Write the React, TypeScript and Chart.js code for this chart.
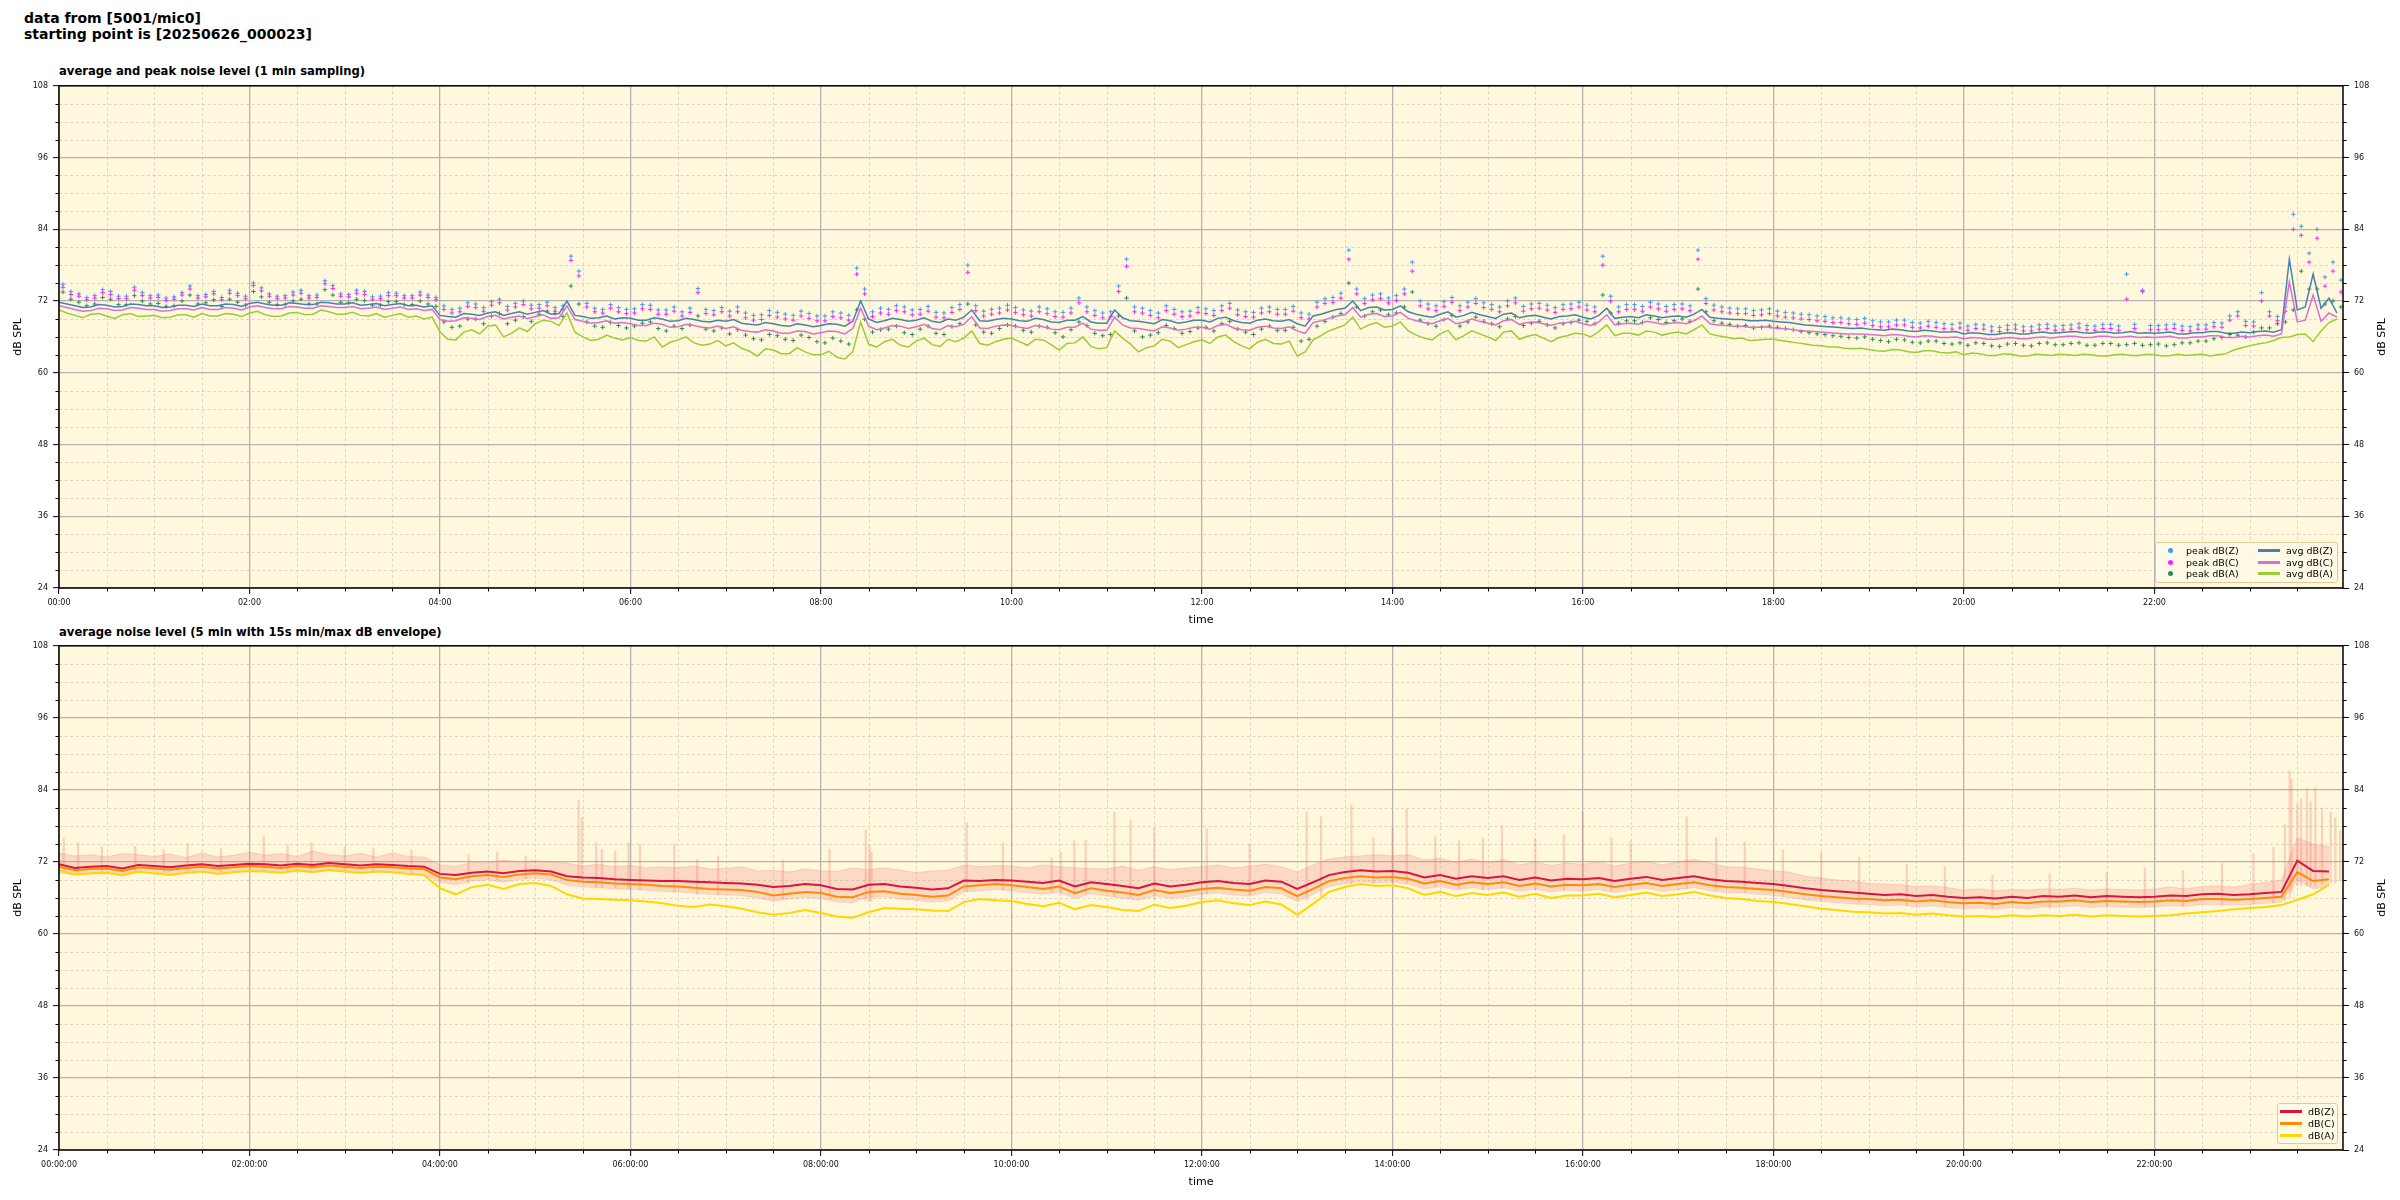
import React, { useEffect, useRef } from "react";
import { Chart, registerables } from "chart.js";

Chart.register(...registerables);

// ------------------------------------------------------------------
// DATA
// top panel: averages every 5 min (00:00..23:55), peaks every 5 min (+2.5 min)
// bottom panel: 5-min averages read every 10 min, envelope band + spikes
// ------------------------------------------------------------------
const AVG_STEP_MIN = 5;
const PEAK_STEP_MIN = 5;
const PEAK_OFFSET_MIN = 2.5;
const DB_STEP_MIN = 10;

const AVG_Z = [
  71.8, 71.5, 71.2, 70.9, 71.0, 71.4, 71.3, 71.0, 71.1, 71.5, 71.4, 71.2,
  71.2, 70.9, 71.0, 71.3, 71.3, 71.1, 71.5, 71.2, 71.2, 71.5, 71.4, 71.1,
  71.6, 71.8, 71.5, 71.3, 71.3, 71.7, 71.6, 71.4, 71.4, 71.8, 71.7, 71.5,
  71.5, 71.7, 71.3, 71.4, 71.6, 71.2, 71.4, 71.6, 71.2, 71.3, 71.0, 71.2,
  69.6, 69.4, 69.3, 69.9, 69.8, 69.6, 70.0, 70.2, 69.6, 69.9, 70.2, 69.8,
  70.1, 70.4, 69.8, 69.9, 72.0, 69.6, 69.4, 69.1, 69.2, 69.5, 69.0, 69.2,
  69.1, 68.8, 68.8, 69.2, 69.0, 68.6, 68.7, 69.1, 68.9, 68.6, 68.5, 68.8,
  68.6, 68.9, 68.3, 68.1, 68.0, 68.4, 68.2, 67.9, 67.8, 68.2, 68.0, 67.7,
  67.9, 68.2, 68.1, 67.8, 68.6, 72.0, 69.0, 68.4, 68.7, 69.1, 68.9, 68.6,
  68.8, 69.2, 68.6, 68.4, 69.0, 68.8, 69.3, 70.5, 68.7, 68.6, 68.9, 69.1,
  69.0, 68.7, 68.6, 69.1, 68.9, 68.5, 68.4, 68.8, 68.8, 69.4, 68.5, 68.3,
  68.3, 70.5, 69.2, 68.7, 68.6, 68.4, 68.2, 68.9, 68.7, 68.3, 68.5, 68.8,
  68.8, 68.5, 69.1, 69.3, 68.7, 68.4, 68.3, 68.8, 69.0, 68.7, 68.6, 68.9,
  68.2, 67.8, 69.5, 69.8, 70.2, 70.6, 70.8, 72.0, 70.4, 70.9, 71.0, 70.5,
  70.6, 71.2, 70.2, 69.8, 69.5, 69.3, 69.8, 70.2, 69.3, 69.6, 70.1, 69.7,
  69.4, 69.1, 69.8, 70.0, 69.2, 69.5, 69.6, 69.3, 69.0, 69.4, 69.5, 69.7,
  69.3, 69.0, 69.6, 70.8, 69.1, 69.3, 69.4, 69.2, 69.7, 69.5, 69.2, 69.4,
  69.5, 69.3, 69.8, 70.6, 69.3, 69.1, 69.0, 68.9, 68.9, 68.7, 68.7, 68.8,
  68.6, 68.5, 68.4, 68.2, 68.0, 67.9, 67.8, 67.7, 67.6, 67.5, 67.4, 67.5,
  67.3, 67.2, 67.1, 67.3, 67.2, 67.0, 66.9, 67.1, 67.0, 66.8, 66.8, 66.9,
  66.5, 66.7, 66.6, 66.4, 66.4, 66.6, 66.7, 66.5, 66.5, 66.7, 66.8, 66.6,
  66.7, 66.8, 66.9, 66.7, 66.6, 66.8, 66.8, 66.6, 66.7, 66.9, 66.6, 66.7,
  66.6, 66.7, 66.8, 66.5, 66.5, 66.7, 66.7, 66.9, 66.9, 66.6, 66.6, 66.8,
  66.7, 66.9, 67.0, 66.8, 67.2, 79.0, 70.5, 71.0, 76.5, 70.8, 72.5, 70.0,
];

const AVG_C = [
  71.2, 70.9, 70.6, 70.3, 70.4, 70.8, 70.7, 70.4, 70.5, 70.9, 70.8, 70.6,
  70.6, 70.3, 70.4, 70.7, 70.7, 70.5, 70.9, 70.6, 70.6, 70.9, 70.8, 70.5,
  71.0, 71.2, 70.9, 70.7, 70.7, 71.1, 71.0, 70.8, 70.8, 71.2, 71.1, 70.9,
  70.9, 71.1, 70.7, 70.8, 71.0, 70.6, 70.8, 71.0, 70.6, 70.7, 70.4, 70.6,
  68.9, 68.6, 68.7, 69.2, 69.1, 68.9, 69.4, 69.6, 69.0, 69.3, 69.5, 69.1,
  69.4, 69.7, 69.1, 69.2, 71.2, 68.9, 68.6, 68.3, 68.4, 68.7, 68.3, 68.4,
  68.2, 67.9, 67.9, 68.3, 68.1, 67.6, 67.7, 68.1, 67.9, 67.6, 67.5, 67.8,
  67.4, 67.7, 67.1, 66.9, 66.8, 67.2, 67.0, 66.6, 66.6, 67.0, 66.9, 66.5,
  66.7, 67.0, 66.9, 66.5, 67.4, 70.8, 67.8, 67.2, 67.5, 67.9, 67.8, 67.4,
  67.7, 68.1, 67.4, 67.2, 67.9, 67.7, 68.1, 69.4, 67.5, 67.4, 67.8, 68.0,
  67.9, 67.6, 67.4, 67.9, 67.7, 67.3, 67.2, 67.6, 67.6, 68.3, 67.3, 67.1,
  67.1, 69.3, 68.0, 67.5, 67.4, 67.2, 67.0, 67.7, 67.5, 67.1, 67.3, 67.6,
  67.6, 67.3, 67.9, 68.1, 67.5, 67.2, 67.1, 67.6, 67.8, 67.5, 67.4, 67.7,
  67.0, 66.6, 68.4, 68.7, 69.1, 69.5, 69.7, 70.9, 69.3, 69.8, 69.9, 69.4,
  69.5, 70.1, 69.1, 68.7, 68.4, 68.2, 68.7, 69.1, 68.2, 68.5, 69.0, 68.6,
  68.3, 68.0, 68.7, 68.9, 68.1, 68.4, 68.5, 68.2, 67.9, 68.3, 68.4, 68.6,
  68.2, 67.9, 68.5, 69.7, 68.0, 68.2, 68.3, 68.1, 68.6, 68.4, 68.1, 68.3,
  68.4, 68.2, 68.7, 69.5, 68.2, 68.0, 67.9, 67.8, 67.8, 67.6, 67.6, 67.7,
  67.5, 67.4, 67.3, 67.1, 67.0, 66.9, 66.8, 66.7, 66.6, 66.5, 66.5, 66.5,
  66.4, 66.3, 66.2, 66.4, 66.3, 66.1, 66.0, 66.2, 66.1, 65.9, 65.9, 66.0,
  65.7, 65.9, 65.8, 65.6, 65.6, 65.8, 65.9, 65.7, 65.7, 65.9, 66.0, 65.8,
  66.0, 66.1, 66.1, 65.9, 65.9, 66.1, 66.1, 65.9, 66.0, 66.1, 65.9, 66.0,
  65.9, 66.0, 66.1, 65.8, 65.8, 66.0, 66.0, 66.2, 66.2, 65.9, 65.9, 66.1,
  66.0, 66.2, 66.3, 66.1, 66.5, 75.2, 68.5, 68.8, 73.0, 68.6, 70.0, 69.3,
];

const AVG_A = [
  70.5, 70.0, 69.6, 69.2, 69.8, 69.9, 69.5, 69.1, 69.7, 69.9, 69.4, 69.5,
  69.6, 69.2, 69.3, 69.7, 69.7, 69.3, 69.9, 69.5, 69.5, 69.9, 69.8, 69.4,
  70.0, 70.3, 69.7, 69.4, 69.5, 70.0, 70.1, 69.7, 69.8, 70.5, 70.2, 69.8,
  69.8, 70.1, 69.6, 69.5, 69.9, 69.3, 69.6, 69.9, 69.3, 69.5, 69.0, 69.3,
  66.8, 65.6, 65.5, 66.8, 67.2, 66.5, 67.8, 68.0, 66.0, 66.6, 67.5, 66.9,
  68.2, 68.8, 68.6, 67.9, 70.0, 66.8, 66.0, 65.4, 65.6, 66.3, 65.8, 65.5,
  65.9, 65.4, 65.3, 66.0, 64.3, 65.1, 65.5, 66.0, 65.0, 64.6, 64.8, 65.4,
  64.5, 65.0, 64.1, 63.6, 62.8, 64.0, 63.8, 63.2, 63.2, 64.2, 63.5, 63.0,
  63.0, 63.6, 62.6, 62.3, 63.5, 68.5, 64.8, 64.3, 65.2, 65.6, 64.6, 64.3,
  65.3, 65.8, 64.7, 64.4, 65.6, 65.2, 65.8, 67.0, 64.9, 64.6, 65.2, 65.6,
  65.8, 65.2, 64.6, 65.6, 65.5, 64.7, 63.8, 64.9, 65.0, 66.0, 64.4, 64.0,
  64.2, 67.0, 65.8, 64.8, 63.5, 64.2, 64.5, 65.6, 65.3, 64.2, 64.7, 65.2,
  65.5, 64.9, 66.0, 66.3, 65.2, 64.5, 64.0, 65.1, 65.6, 64.9, 64.8, 65.3,
  62.8, 63.5, 65.5, 66.2, 67.0, 67.5, 68.0, 69.3, 67.3, 68.0, 68.4, 67.6,
  67.8, 68.5, 67.0, 66.3, 65.8, 65.5, 66.5, 67.1, 65.5, 66.2, 67.0, 66.5,
  66.0, 65.4, 66.8, 67.0, 65.6, 66.1, 66.4, 65.8, 65.2, 65.9, 66.2, 66.6,
  66.5, 66.0, 66.9, 68.0, 66.2, 66.6, 66.6, 66.3, 67.0, 66.8, 66.3, 66.6,
  66.8, 66.5, 67.2, 68.0, 66.5, 66.2, 66.0, 65.7, 65.8, 65.4, 65.5, 65.6,
  65.6, 65.4, 65.2, 65.0, 64.8, 64.6, 64.5, 64.3, 64.3, 64.1, 64.0, 64.1,
  63.9, 63.7, 63.6, 63.9, 63.8, 63.5, 63.4, 63.7, 63.7, 63.4, 63.3, 63.5,
  63.0, 63.3, 63.2, 62.9, 62.9, 63.2, 63.1, 62.8, 62.8, 63.1, 63.0, 62.9,
  63.1, 63.0, 62.9, 63.1, 63.0, 62.8, 62.8, 63.0, 63.1, 62.9, 62.9, 63.1,
  63.0, 62.8, 62.9, 63.1, 62.9, 63.0, 63.1, 62.8, 63.0, 63.2, 63.8, 64.2,
  64.5, 64.8, 65.0, 65.4, 65.9, 66.0, 66.4, 66.5, 65.2, 67.0, 68.4, 69.0,
];

const PEAK_Z = [
  74.8, 73.6, 73.2, 72.6, 72.9, 73.9, 73.6, 72.8, 72.8, 74.3, 73.4, 72.9,
  73.0, 72.5, 72.7, 73.4, 74.5, 72.9, 73.1, 73.6, 72.6, 73.8, 73.3, 72.8,
  75.0, 74.2, 73.2, 72.8, 72.9, 73.5, 73.8, 72.9, 73.0, 75.4, 74.6, 73.2,
  73.1, 73.8, 73.6, 72.7, 72.8, 73.4, 73.3, 72.9, 72.9, 73.5, 73.0, 72.6,
  71.2, 70.6, 70.8, 71.7, 71.5, 70.9, 71.9, 72.3, 71.1, 71.6, 72.0, 71.3,
  71.4, 71.8, 70.9, 71.2, 79.5, 77.0, 71.6, 70.8, 70.6, 71.4, 70.9, 70.6,
  70.7, 71.4, 71.3, 70.5, 70.5, 71.0, 70.2, 70.8, 74.1, 70.6, 70.4, 70.9,
  70.3, 71.0, 70.0, 69.6, 69.7, 70.4, 70.1, 69.8, 69.6, 70.3, 69.9, 69.5,
  69.5, 70.2, 70.0, 69.6, 77.5, 74.0, 70.2, 70.8, 70.6, 71.2, 71.0, 70.5,
  70.6, 71.1, 70.1, 70.0, 70.9, 71.4, 78.0, 71.2, 70.3, 70.6, 70.8, 71.3,
  70.9, 70.5, 70.3, 71.0, 70.7, 70.2, 70.1, 70.8, 72.5, 71.0, 70.4, 70.0,
  70.2, 74.5, 79.0, 71.0, 70.8, 70.4, 70.0, 71.2, 70.6, 70.2, 70.3, 70.9,
  70.7, 70.4, 71.2, 71.6, 70.5, 70.2, 70.1, 70.8, 71.0, 70.6, 70.6, 71.1,
  70.0, 69.8, 71.8, 72.4, 72.6, 73.3, 80.5, 74.0, 72.4, 73.0, 73.2, 72.5,
  72.9, 74.0, 78.5, 72.0, 71.5, 71.2, 71.9, 72.6, 71.2, 71.8, 72.4, 71.7,
  71.4, 71.0, 72.0, 72.5, 71.1, 71.5, 71.6, 71.3, 70.9, 71.4, 71.5, 71.8,
  71.3, 71.0, 79.5, 72.8, 71.0, 71.4, 71.4, 71.1, 71.8, 71.5, 71.1, 71.4,
  71.5, 71.2, 80.5, 72.4, 71.3, 71.0, 70.8, 70.7, 70.7, 70.4, 70.5, 70.7,
  70.3, 70.1, 70.0, 69.8, 69.7, 69.5, 69.4, 69.2, 69.2, 69.0, 68.9, 69.1,
  68.7, 68.5, 68.5, 68.8, 68.8, 68.4, 68.3, 68.6, 68.4, 68.2, 68.1, 68.3,
  67.8, 68.1, 68.0, 67.7, 67.6, 67.9, 68.0, 67.7, 67.7, 68.0, 68.1, 67.8,
  67.9, 68.0, 68.2, 67.9, 67.8, 68.1, 68.1, 67.8, 76.5, 68.1, 73.8, 67.9,
  67.9, 68.0, 68.1, 67.8, 67.7, 68.0, 68.0, 68.4, 68.3, 69.5, 70.2, 68.6,
  68.5, 73.4, 70.2, 69.4, 71.0, 86.5, 84.5, 80.0, 84.0, 76.0, 78.5, 75.5,
];

const PEAK_C = [
  74.3, 73.1, 72.8, 72.2, 72.5, 73.4, 73.1, 72.4, 72.4, 73.8, 72.9, 72.5,
  72.6, 72.1, 72.3, 73.0, 74.0, 72.5, 72.7, 73.2, 72.2, 73.3, 72.9, 72.4,
  74.6, 73.7, 72.8, 72.4, 72.5, 73.0, 73.3, 72.5, 72.6, 74.9, 74.1, 72.8,
  72.7, 73.3, 73.1, 72.3, 72.4, 72.9, 72.9, 72.5, 72.5, 73.0, 72.6, 72.2,
  70.6, 70.0, 70.2, 71.1, 70.9, 70.3, 71.3, 71.7, 70.5, 71.0, 71.4, 70.7,
  70.8, 71.2, 70.3, 70.6, 78.8, 76.2, 71.0, 70.2, 70.0, 70.8, 70.2, 69.9,
  70.0, 70.7, 70.6, 69.8, 69.8, 70.3, 69.5, 70.1, 73.4, 69.9, 69.7, 70.2,
  69.5, 70.2, 69.2, 68.8, 68.9, 69.6, 69.3, 69.0, 68.8, 69.5, 69.1, 68.7,
  68.7, 69.4, 69.2, 68.8, 76.5, 73.2, 69.4, 70.0, 69.8, 70.4, 70.2, 69.7,
  69.8, 70.3, 69.3, 69.2, 70.1, 70.6, 76.8, 70.4, 69.5, 69.8, 70.0, 70.5,
  70.1, 69.7, 69.5, 70.2, 69.9, 69.4, 69.3, 70.0, 71.7, 70.2, 69.6, 69.2,
  69.4, 73.6, 77.8, 70.2, 70.0, 69.6, 69.2, 70.4, 69.8, 69.4, 69.5, 70.1,
  69.9, 69.6, 70.4, 70.8, 69.7, 69.4, 69.3, 70.0, 70.2, 69.8, 69.8, 70.3,
  69.2, 69.0, 71.0, 71.6, 71.8, 72.5, 79.0, 73.2, 71.6, 72.2, 72.4, 71.7,
  72.1, 73.2, 77.0, 71.2, 70.7, 70.4, 71.1, 71.8, 70.4, 71.0, 71.6, 70.9,
  70.6, 70.2, 71.2, 71.7, 70.3, 70.7, 70.8, 70.5, 70.1, 70.6, 70.7, 71.0,
  70.5, 70.2, 78.0, 72.0, 70.2, 70.6, 70.6, 70.3, 71.0, 70.7, 70.3, 70.6,
  70.7, 70.4, 79.0, 71.6, 70.5, 70.2, 70.0, 69.9, 69.9, 69.6, 69.7, 69.9,
  69.5, 69.3, 69.2, 69.0, 68.9, 68.7, 68.6, 68.4, 68.4, 68.2, 68.1, 68.3,
  67.9, 67.7, 67.7, 68.0, 68.0, 67.6, 67.5, 67.8, 67.6, 67.4, 67.3, 67.5,
  67.1, 67.4, 67.3, 67.0, 66.9, 67.2, 67.3, 67.0, 67.0, 67.3, 67.4, 67.1,
  67.2, 67.3, 67.5, 67.2, 67.1, 67.4, 67.4, 67.1, 72.3, 67.4, 73.6, 67.2,
  67.2, 67.3, 67.4, 67.1, 67.0, 67.3, 67.3, 67.7, 67.6, 68.8, 69.5, 67.9,
  67.8, 72.0, 69.5, 68.7, 70.3, 84.0, 83.0, 78.5, 82.5, 74.5, 77.0, 73.5,
];

const PEAK_A = [
  73.5, 72.3, 71.8, 71.2, 71.5, 72.6, 72.3, 71.4, 71.4, 72.9, 72.0, 71.5,
  71.6, 71.1, 71.2, 72.0, 73.0, 71.5, 71.7, 72.2, 71.1, 72.3, 71.8, 71.3,
  73.6, 72.7, 71.8, 71.4, 71.4, 72.0, 72.3, 71.5, 71.5, 73.9, 73.0, 71.8,
  71.7, 72.3, 72.1, 71.3, 71.3, 71.9, 71.9, 71.4, 71.4, 72.0, 71.5, 71.1,
  68.5, 67.6, 67.8, 69.0, 69.0, 68.2, 69.5, 69.9, 68.2, 68.8, 69.4, 68.6,
  69.8, 70.3, 69.9, 69.4, 74.5, 71.5, 68.5, 67.8, 67.6, 68.4, 67.9, 67.5,
  67.8, 68.3, 68.5, 67.4, 67.0, 67.8, 67.4, 68.0, 69.5, 67.3, 67.0, 67.5,
  66.5, 67.2, 66.3, 65.7, 65.5, 66.4, 66.2, 65.6, 65.4, 66.3, 65.9, 65.2,
  65.0, 65.8, 65.3, 64.8, 70.5, 69.0, 66.8, 67.2, 67.3, 67.8, 66.7, 66.4,
  67.3, 67.8, 66.6, 66.4, 67.7, 68.2, 71.5, 68.0, 66.8, 66.6, 67.4, 68.0,
  67.8, 67.1, 66.8, 67.8, 67.6, 66.7, 66.0, 67.2, 68.5, 67.9, 66.6, 66.2,
  66.4, 69.5, 72.5, 67.0, 66.0, 66.3, 66.7, 67.9, 67.4, 66.6, 66.9, 67.5,
  67.6, 67.0, 68.2, 68.6, 67.3, 66.8, 66.4, 67.3, 67.8, 67.1, 67.1, 67.6,
  65.3, 65.6, 67.8, 68.6, 69.3, 69.9, 75.0, 71.0, 69.5, 70.2, 70.5, 69.7,
  70.0, 71.0, 73.5, 68.8, 68.2, 67.8, 68.9, 69.6, 67.8, 68.5, 69.3, 68.6,
  68.2, 67.7, 69.0, 69.4, 67.9, 68.3, 68.6, 68.0, 67.5, 68.2, 68.4, 68.8,
  68.6, 68.2, 73.0, 70.0, 68.3, 68.7, 68.7, 68.4, 69.2, 68.9, 68.4, 68.7,
  69.0, 68.6, 74.0, 70.2, 68.7, 68.3, 68.1, 67.8, 67.9, 67.5, 67.6, 67.8,
  67.6, 67.4, 67.2, 66.9, 66.7, 66.5, 66.4, 66.2, 66.1, 65.9, 65.8, 66.0,
  65.6, 65.4, 65.2, 65.6, 65.5, 65.1, 65.0, 65.3, 65.3, 64.9, 64.8, 65.0,
  64.6, 65.0, 64.9, 64.5, 64.4, 64.8, 64.9, 64.6, 64.5, 64.9, 65.0, 64.7,
  64.7, 64.9, 65.0, 64.6, 64.6, 64.9, 64.9, 64.6, 64.7, 64.9, 64.6, 64.7,
  64.8, 64.5, 64.7, 65.0, 65.0, 65.3, 65.3, 65.7, 65.9, 66.4, 66.3, 66.0,
  66.8, 67.5, 67.5, 68.2, 68.5, 70.5, 77.0, 74.0, 74.0, 71.5, 72.0, 71.0,
];

// bottom panel lines (10-min readings of the 5-min averages)
const DB_Z = [
  71.6, 71.0, 71.2, 71.3, 70.9, 71.5,
  71.3, 71.1, 71.4, 71.6, 71.3, 71.5,
  71.7, 71.6, 71.4, 71.7, 71.5, 71.8,
  71.6, 71.4, 71.6, 71.5, 71.3, 71.2,
  70.0, 69.8, 70.2, 70.4, 70.1, 70.5,
  70.6, 70.4, 69.6, 69.4, 69.3, 69.1,
  69.0, 68.9, 68.8, 68.8, 68.7, 68.6,
  68.5, 68.4, 68.2, 67.8, 68.0, 68.3,
  68.1, 67.5, 67.4, 68.2, 68.3, 67.9,
  67.7, 67.4, 67.6, 68.9, 68.8, 69.0,
  68.9, 68.7, 68.5, 68.9, 67.9, 68.6,
  68.3, 68.0, 67.6, 68.4, 67.9, 68.2,
  68.6, 68.8, 68.5, 68.3, 68.9, 68.7,
  67.5, 68.6, 69.8, 70.3, 70.6, 70.4,
  70.5, 70.2, 69.4, 69.8, 69.2, 69.6,
  69.3, 69.6, 69.0, 69.4, 68.9, 69.2,
  69.1, 69.3, 68.8, 69.2, 69.5, 69.0,
  69.3, 69.6, 69.1, 68.8, 68.7, 68.5,
  68.3, 68.0, 67.6, 67.3, 67.1, 66.9,
  66.7, 66.5, 66.6, 66.3, 66.5, 66.2,
  66.0, 66.1, 65.9, 66.2, 66.0, 66.3,
  66.2, 66.4, 66.1, 66.3, 66.2, 66.1,
  66.2, 66.4, 66.3, 66.6, 66.7, 66.5,
  66.6, 66.8, 67.0, 72.2, 70.5, 70.4,
];

const DB_C = [
  71.2, 70.6, 70.8, 70.9, 70.5, 71.1,
  70.9, 70.7, 71.0, 71.2, 70.9, 71.1,
  71.3, 71.2, 71.0, 71.3, 71.1, 71.4,
  71.2, 71.0, 71.2, 71.1, 70.9, 70.8,
  69.4, 69.1, 69.6, 69.8, 69.5, 69.9,
  70.1, 69.9, 69.0, 68.7, 68.6, 68.4,
  68.3, 68.2, 68.0, 67.9, 67.7, 67.5,
  67.4, 67.3, 67.0, 66.4, 66.7, 67.0,
  66.8, 66.2, 66.1, 67.0, 67.1, 66.7,
  66.5, 66.2, 66.4, 67.9, 68.1, 68.3,
  68.1, 67.8, 67.5, 67.9, 66.8, 67.6,
  67.2, 66.9, 66.5, 67.3, 66.8, 67.1,
  67.5, 67.7, 67.4, 67.2, 67.8, 67.6,
  66.3, 67.5, 68.8, 69.3, 69.6, 69.4,
  69.5, 69.2, 68.4, 68.8, 68.2, 68.6,
  68.3, 68.6, 68.0, 68.4, 67.9, 68.2,
  68.1, 68.3, 67.8, 68.2, 68.5, 68.0,
  68.3, 68.6, 68.1, 67.8, 67.7, 67.5,
  67.3, 67.0, 66.6, 66.3, 66.1, 65.9,
  65.8, 65.6, 65.7, 65.4, 65.6, 65.3,
  65.1, 65.2, 65.0, 65.3, 65.1, 65.4,
  65.4, 65.6, 65.3, 65.5, 65.4, 65.3,
  65.4, 65.6, 65.5, 65.8, 65.8, 65.7,
  65.8, 66.0, 66.2, 70.3, 68.8, 69.1,
];

const DB_A = [
  70.6, 69.9, 70.1, 70.2, 69.8, 70.4,
  70.1, 69.8, 70.2, 70.4, 70.0, 70.3,
  70.5, 70.4, 70.2, 70.6, 70.3, 70.7,
  70.4, 70.2, 70.4, 70.3, 70.0, 69.8,
  67.6, 66.6, 67.8, 68.2, 67.5, 68.3,
  68.5, 68.0, 66.6, 65.9, 65.8, 65.7,
  65.6, 65.4, 65.1, 64.7, 64.5, 64.9,
  64.6, 64.2, 63.6, 63.2, 63.5, 64.0,
  63.5, 62.9, 62.7, 63.6, 64.3, 64.2,
  64.1, 63.9, 63.8, 65.3, 65.8, 65.6,
  65.5, 65.0, 64.6, 65.2, 64.1, 64.8,
  64.5, 64.0, 63.8, 64.9, 64.3, 64.7,
  65.3, 65.6, 65.1, 64.8, 65.4, 64.9,
  63.2, 65.0, 67.0, 67.8, 68.3, 68.0,
  68.1, 67.6, 66.5, 67.0, 66.3, 66.8,
  66.5, 66.9, 66.2, 66.7, 66.0, 66.4,
  66.4, 66.7, 66.1, 66.5, 66.9, 66.3,
  66.6, 67.0, 66.4, 66.0, 65.8, 65.5,
  65.3, 65.0, 64.6, 64.2, 64.0, 63.7,
  63.6, 63.4, 63.5, 63.2, 63.4, 63.1,
  62.9, 63.0, 62.8, 63.1, 62.9, 63.1,
  63.0, 63.2, 62.9, 63.1, 63.0, 62.9,
  63.0, 63.1, 63.4, 63.6, 63.8, 64.1,
  64.3, 64.5, 64.8, 65.7, 66.6, 68.2,
];

// 15 s min/max envelope: band (10-min readings) ...
const ENV_TOP = [
  73.5, 73.0, 73.2, 72.8, 73.4, 73.2,
  72.9, 73.3, 72.7, 73.5, 72.8, 73.1,
  73.6, 73.1, 73.4, 72.9, 73.8, 73.2,
  73.0, 73.4, 72.8, 73.5, 72.9, 72.8,
  71.5, 71.2, 72.0, 71.8, 72.3, 72.0,
  72.2, 72.0, 71.8, 71.3, 71.6, 71.2,
  71.4, 71.0, 71.2, 71.0, 71.3, 70.8,
  70.9, 71.2, 70.5, 70.6, 70.3, 70.8,
  70.5, 70.4, 71.0, 70.7, 71.0, 70.6,
  70.2, 70.5, 70.6, 71.5, 71.2, 71.4,
  71.3, 71.0, 71.5, 71.2, 71.0, 70.9,
  70.8, 71.3, 70.6, 71.2, 70.7, 71.0,
  71.2, 71.5, 71.0, 71.3, 71.6, 71.2,
  70.3, 71.5, 72.5, 72.8, 73.0, 73.2,
  73.0, 73.2, 72.3, 72.6, 71.9, 72.5,
  71.8, 72.4, 71.5, 72.0, 71.4, 71.8,
  71.6, 72.0, 71.3, 71.8, 72.1, 71.5,
  72.0, 72.4, 71.8, 71.2, 71.1, 70.8,
  70.5, 70.3, 69.6, 69.3, 69.0, 68.8,
  68.4, 68.3, 68.2, 67.9, 68.0, 67.7,
  67.3, 67.5, 67.2, 67.4, 67.3, 67.5,
  67.4, 67.6, 67.3, 67.5, 67.4, 67.3,
  67.5, 67.8, 67.5, 67.9, 68.0, 67.8,
  68.2, 68.6, 69.0, 76.0, 75.0, 74.5,
];

const ENV_BOTTOM = [
  70.2, 69.8, 70.0, 70.1, 69.6, 70.3,
  70.0, 69.8, 70.1, 70.3, 70.0, 70.2,
  70.4, 70.3, 70.1, 70.4, 70.2, 70.5,
  70.3, 70.1, 70.3, 70.2, 70.0, 69.9,
  68.6, 68.2, 68.8, 69.0, 68.6, 69.1,
  69.3, 69.0, 68.1, 67.8, 67.7, 67.5,
  67.4, 67.3, 67.1, 67.0, 66.8, 66.6,
  66.5, 66.4, 66.0, 65.5, 65.8, 66.1,
  65.9, 65.3, 65.2, 66.1, 66.2, 65.8,
  65.6, 65.3, 65.5, 67.0, 67.2, 67.4,
  67.2, 66.9, 66.6, 67.0, 65.9, 66.7,
  66.3, 66.0, 65.6, 66.4, 65.9, 66.2,
  66.6, 66.8, 66.5, 66.3, 66.9, 66.7,
  65.4, 66.6, 67.9, 68.4, 68.7, 68.5,
  68.6, 68.3, 67.5, 67.9, 67.3, 67.7,
  67.4, 67.7, 67.1, 67.5, 67.0, 67.3,
  67.2, 67.4, 66.9, 67.3, 67.6, 67.1,
  67.4, 67.7, 67.2, 66.9, 66.8, 66.6,
  66.4, 66.1, 65.7, 65.4, 65.2, 65.0,
  64.9, 64.7, 64.8, 64.5, 64.7, 64.4,
  64.2, 64.3, 64.1, 64.4, 64.2, 64.5,
  64.5, 64.7, 64.4, 64.6, 64.5, 64.4,
  64.5, 64.7, 64.6, 64.9, 64.9, 64.8,
  64.9, 65.1, 65.3, 69.0, 67.5, 68.0,
];

// ... and the narrow spikes of the envelope (hour, low dB, high dB)
const SPIKE_HOUR = [
  0.05, 0.2, 0.45, 0.8, 1.1, 1.35, 1.7, 2.15, 2.4, 2.65, 3.0, 3.3, 3.7,
  4.3, 4.6, 4.9, 5.455, 5.49, 5.64, 5.7, 5.84, 5.98, 6.1, 6.46, 6.7, 6.92,
  7.6, 8.09, 8.47, 8.51, 8.53, 9.53, 9.91, 10.42, 10.52, 10.66, 10.78,
  11.08, 11.25, 11.5, 12.05, 12.5, 13.1, 13.25, 13.57, 13.8, 14.0, 14.15,
  14.45, 14.7, 14.95, 15.15, 15.5, 15.8, 16.0, 16.3, 16.5, 17.09, 17.4,
  17.7, 18.1, 18.5, 18.9, 19.4, 19.8, 20.3, 20.9, 21.5, 21.9, 22.3, 22.71,
  23.04, 23.25, 23.37, 23.42, 23.44, 23.5, 23.54, 23.6, 23.64, 23.69,
  23.76, 23.85, 23.9, 23.95,
];
const SPIKE_LOW = [
  70.5, 70.3, 70.0, 70.2, 70.2, 70.4, 70.3, 70.5, 70.4, 70.6, 70.4, 70.3, 70.1,
  68.5, 69.0, 69.2, 69.0, 68.8, 67.8, 67.8, 67.7, 67.5, 67.4, 67.0, 66.6, 66.5,
  65.8, 65.9, 65.5, 65.5, 65.5, 67.0, 67.4, 66.9, 66.7, 66.6, 66.8,
  66.2, 66.1, 65.8, 66.7, 66.5, 65.6, 66.3, 68.0, 68.5, 68.6, 68.4,
  67.8, 67.5, 67.4, 67.5, 67.3, 67.2, 67.2, 67.0, 67.4, 67.6, 67.3,
  66.9, 66.3, 65.7, 65.2, 64.8, 64.6, 64.3, 64.3, 64.5, 64.5, 64.6, 64.8,
  65.0, 65.2, 65.5, 66.0, 67.0, 68.0, 68.0, 68.0, 68.0, 68.0,
  68.2, 68.5, 68.5, 68.8,
];
const SPIKE_HIGH = [
  76.0, 75.2, 74.5, 74.6, 74.0, 75.0, 74.2, 76.3, 74.8, 75.2, 74.5, 74.3, 74.0,
  73.2, 73.6, 73.0, 82.3, 79.4, 75.2, 74.1, 73.8, 75.2, 74.9, 74.9, 72.4, 73.0,
  72.2, 74.1, 77.3, 74.7, 73.6, 78.6, 75.2, 72.7, 73.6, 75.5, 75.6,
  80.3, 79.0, 77.7, 77.5, 75.0, 80.3, 79.5, 81.5, 76.0, 77.7, 80.8,
  76.2, 75.5, 76.0, 78.0, 75.8, 76.5, 80.3, 76.0, 75.5, 79.5, 76.0,
  75.3, 74.0, 73.5, 72.8, 71.5, 71.2, 69.8, 70.0, 70.2, 71.0, 70.5, 71.7,
  73.4, 74.4, 78.3, 87.2, 85.8, 81.7, 82.5, 84.2, 82.0, 84.2,
  81.0, 80.3, 79.4, 77.2,
];

// axis ticks / labels
const X_MAJOR_TICKS = [0, 2, 4, 6, 8, 10, 12, 14, 16, 18, 20, 22];
const Y_MAJOR_TICKS = [24, 36, 48, 60, 72, 84, 96, 108];
const X_MINOR_STEP = 0.5;
const Y_MINOR_STEP = 3;
const X_MIN = 0;
const X_MAX = 23.98;
const Y_MIN = 24;
const Y_MAX = 108;

const TOP_TITLE = "average and peak noise level (1 min sampling)";
const BOTTOM_TITLE = "average noise level (5 min with 15s min/max dB envelope)";
const SUPTITLE_1 = "data from [5001/mic0]";
const SUPTITLE_2 = "starting point is [20250626_000023]";
const TOP_LEGEND_LEFT = ["peak dB(Z)", "peak dB(C)", "peak dB(A)"];
const TOP_LEGEND_RIGHT = ["avg dB(Z)", "avg dB(C)", "avg dB(A)"];
const BOTTOM_LEGEND = ["dB(Z)", "dB(C)", "dB(A)"];

// ------------------------------------------------------------------
// STYLE
// ------------------------------------------------------------------
const FONT = '"DejaVu Sans", "Liberation Sans", sans-serif';
const BG = "#fff8dc";
const GRID_MAJOR = "#b4b4b4";
const GRID_MINOR = "rgba(170,170,170,0.6)";
const C_PEAK = ["#3d9cf2", "#ff22ff", "#2e8b57"];
const C_AVG = ["#4682b4", "#da70d6", "#9acd32"];
const C_DB = ["#dc143c", "#ff8c00", "#ffd700"];
const C_ENV = "rgba(240,128,120,0.26)";

function toPoints(values: number[], stepMin: number, offsetMin: number) {
  return values.map((v, i) => ({ x: (i * stepMin + offsetMin) / 60, y: v }));
}

function range(start: number, end: number, step: number, skip: number) {
  const out: number[] = [];
  for (let v = start; v <= end + 1e-9; v += step) {
    if (Math.abs(v / skip - Math.round(v / skip)) > 1e-6) out.push(v);
  }
  return out;
}
const X_MINOR = range(X_MIN, X_MAX, X_MINOR_STEP, 2);
const Y_MINOR = range(Y_MIN, Y_MAX, Y_MINOR_STEP, 12);

const mplPlugin = {
  id: "mplFrame",
  beforeDraw(chart: any) {
    const { ctx, chartArea: a } = chart;
    ctx.save();
    ctx.fillStyle = BG;
    ctx.fillRect(a.left, a.top, a.right - a.left, a.bottom - a.top);
    ctx.restore();
  },
  beforeDatasetsDraw(chart: any) {
    const { ctx, chartArea: a, scales } = chart;
    const xs = scales.x;
    const ys = scales.y;
    ctx.save();
    ctx.strokeStyle = GRID_MINOR;
    ctx.lineWidth = 0.7;
    ctx.setLineDash([3, 2.5]);
    ctx.beginPath();
    for (const v of X_MINOR) {
      const px = Math.round(xs.getPixelForValue(v)) + 0.5;
      ctx.moveTo(px, a.top);
      ctx.lineTo(px, a.bottom);
    }
    for (const v of Y_MINOR) {
      const py = Math.round(ys.getPixelForValue(v)) + 0.5;
      ctx.moveTo(a.left, py);
      ctx.lineTo(a.right, py);
    }
    ctx.stroke();
    ctx.setLineDash([]);
    ctx.strokeStyle = "#000";
    ctx.lineWidth = 1;
    ctx.beginPath();
    for (const v of X_MINOR) {
      const px = Math.round(xs.getPixelForValue(v)) + 0.5;
      ctx.moveTo(px, a.bottom);
      ctx.lineTo(px, a.bottom + 3.5);
    }
    for (const v of Y_MINOR) {
      const py = Math.round(ys.getPixelForValue(v)) + 0.5;
      ctx.moveTo(a.left - 3.5, py);
      ctx.lineTo(a.left, py);
      ctx.moveTo(a.right, py);
      ctx.lineTo(a.right + 3.5, py);
    }
    ctx.stroke();
    ctx.restore();
  },
  afterDatasetsDraw(chart: any) {
    const { ctx, chartArea: a } = chart;
    ctx.save();
    ctx.strokeStyle = "#000";
    ctx.lineWidth = 1.5;
    ctx.strokeRect(a.left, a.top, a.right - a.left, a.bottom - a.top);
    ctx.restore();
  },
  afterDraw(chart: any, _args: any, opts: any) {
    const { ctx, chartArea: a } = chart;
    const cy = (a.top + a.bottom) / 2;
    ctx.save();
    ctx.fillStyle = "#000";
    ctx.font = `11px ${FONT}`;
    ctx.textAlign = "center";
    ctx.textBaseline = "alphabetic";
    ctx.fillText(opts.xTitle, (a.left + a.right) / 2, a.bottom + 35);
    ctx.textBaseline = "middle";
    ctx.translate(a.left - 41, cy);
    ctx.rotate(-Math.PI / 2);
    ctx.fillText(opts.yTitle, 0, 0);
    ctx.restore();
    ctx.save();
    ctx.fillStyle = "#000";
    ctx.font = `11px ${FONT}`;
    ctx.textAlign = "center";
    ctx.textBaseline = "middle";
    ctx.translate(a.right + 39, cy);
    ctx.rotate(-Math.PI / 2);
    ctx.fillText(opts.yTitle, 0, 0);
    ctx.restore();
  },
};

const pad2 = (n: number) => String(n).padStart(2, "0");

function buildOptions(xFmt: (v: number) => string, padTop: number, xAxisH: number) {
  const tickFont = { family: FONT, size: 8 };
  const yTicks = (s: any) => {
    s.ticks = Y_MAJOR_TICKS.map((v) => ({ value: v }));
  };
  return {
    responsive: false,
    animation: false as const,
    devicePixelRatio: 1,
    events: [],
    layout: { padding: { top: padTop, left: 0, right: 0, bottom: 0 } },
    plugins: {
      legend: { display: false },
      tooltip: { enabled: false },
      title: { display: false },
      mplFrame: { xTitle: "time", yTitle: "dB SPL" },
    },
    scales: {
      x: {
        type: "linear",
        position: "bottom",
        min: X_MIN,
        max: X_MAX,
        offset: false,
        afterBuildTicks: (s: any) => {
          s.ticks = X_MAJOR_TICKS.map((v) => ({ value: v }));
        },
        afterFit: (s: any) => {
          s.height = xAxisH;
        },
        ticks: {
          callback: (v: any) => xFmt(Number(v)),
          autoSkip: false,
          maxRotation: 0,
          minRotation: 0,
          padding: 4,
          color: "#111",
          font: tickFont,
        },
        grid: { color: GRID_MAJOR, lineWidth: 1.3, offset: false, drawTicks: true, tickLength: 6, tickColor: "#000", tickWidth: 1 },
        border: { display: false },
      },
      y: {
        type: "linear",
        position: "left",
        min: Y_MIN,
        max: Y_MAX,
        afterBuildTicks: yTicks,
        afterFit: (s: any) => {
          s.width = 59;
        },
        ticks: { padding: 5, color: "#111", font: tickFont },
        grid: { color: GRID_MAJOR, lineWidth: 1.3, drawTicks: true, tickLength: 6, tickColor: "#000", tickWidth: 1 },
        border: { display: false },
      },
      y2: {
        type: "linear",
        position: "right",
        min: Y_MIN,
        max: Y_MAX,
        afterBuildTicks: yTicks,
        afterFit: (s: any) => {
          s.width = 57;
        },
        ticks: { padding: 5, color: "#111", font: tickFont },
        grid: { drawOnChartArea: false, drawTicks: true, tickLength: 6, tickColor: "#000", tickWidth: 1 },
        border: { display: false },
      },
    },
  };
}

function topDatasets() {
  const peaks = [PEAK_Z, PEAK_C, PEAK_A].map((arr, k) => ({
    label: TOP_LEGEND_LEFT[k],
    data: toPoints(arr, PEAK_STEP_MIN, PEAK_OFFSET_MIN),
    showLine: false,
    pointStyle: "cross",
    pointRadius: 2.2,
    pointBorderWidth: 1,
    pointBorderColor: C_PEAK[k],
    pointBackgroundColor: C_PEAK[k],
    borderColor: C_PEAK[k],
    order: 5 - k,
  }));
  const avgs = [AVG_Z, AVG_C, AVG_A].map((arr, k) => ({
    label: TOP_LEGEND_RIGHT[k],
    data: toPoints(arr, AVG_STEP_MIN, 0),
    borderColor: C_AVG[k],
    borderWidth: 1.5,
    pointRadius: 0,
    tension: 0,
    fill: false,
    order: 2 - k,
  }));
  return [...peaks, ...avgs];
}

function bottomDatasets() {
  const env = [
    {
      label: "envelope max",
      data: toPoints(ENV_TOP, DB_STEP_MIN, 0),
      borderColor: "rgba(240,128,120,0.28)",
      borderWidth: 1,
      backgroundColor: C_ENV,
      pointRadius: 0,
      fill: "+1",
      order: 10,
    },
    {
      label: "envelope min",
      data: toPoints(ENV_BOTTOM, DB_STEP_MIN, 0),
      borderColor: "rgba(240,128,120,0.2)",
      borderWidth: 1,
      pointRadius: 0,
      fill: false,
      order: 11,
    },
    {
      type: "bar",
      label: "envelope spikes",
      data: SPIKE_HOUR.map((h, i) => ({ x: h, y: [SPIKE_LOW[i], SPIKE_HIGH[i]] })),
      backgroundColor: "rgba(240,128,120,0.32)",
      borderWidth: 0,
      barThickness: 1.6,
      grouped: false,
      order: 12,
    },
  ];
  const lines = [DB_Z, DB_C, DB_A].map((arr, k) => ({
    label: BOTTOM_LEGEND[k],
    data: toPoints(arr, DB_STEP_MIN, 0),
    borderColor: C_DB[k],
    borderWidth: 2,
    pointRadius: 0,
    tension: 0,
    fill: false,
    order: 2 - k,
  }));
  return [...env, ...lines];
}

function NoiseChart(props: {
  top: number;
  height: number;
  padTop: number;
  xAxisH: number;
  kind: "top" | "bottom";
}) {
  const ref = useRef<HTMLCanvasElement | null>(null);
  useEffect(() => {
    if (!ref.current) return;
    const fmt =
      props.kind === "top"
        ? (v: number) => `${pad2(Math.round(v))}:00`
        : (v: number) => `${pad2(Math.round(v))}:00:00`;
    const chart = new Chart(ref.current, {
      type: "line",
      data: { datasets: (props.kind === "top" ? topDatasets() : bottomDatasets()) as any },
      options: buildOptions(fmt, props.padTop, props.xAxisH) as any,
      plugins: [mplPlugin as any],
    });
    return () => chart.destroy();
  }, []);
  return (
    <canvas
      ref={ref}
      width={2400}
      height={props.height}
      style={{ position: "absolute", left: 0, top: props.top, width: 2400, height: props.height }}
    />
  );
}

const legendText: React.CSSProperties = {
  position: "absolute",
  fontSize: 9.5,
  lineHeight: "11px",
  whiteSpace: "nowrap",
  color: "#000",
};

function TopLegend() {
  const rows = [8, 20, 31.5];
  return (
    <div
      style={{
        position: "absolute",
        left: 2155,
        top: 542,
        width: 183,
        height: 41,
        background: "rgba(255,250,232,0.85)",
        border: "1px solid #e2c99c",
        borderRadius: 3,
        boxSizing: "border-box",
      }}
    >
      {rows.map((r, k) => (
        <React.Fragment key={k}>
          <div
            style={{
              position: "absolute",
              left: 11.5,
              top: r - 3.5,
              width: 5,
              height: 5,
              borderRadius: "50%",
              background: C_PEAK[k],
            }}
          />
          <div style={{ ...legendText, left: 30, top: r - 6.5 }}>{TOP_LEGEND_LEFT[k]}</div>
          <div
            style={{
              position: "absolute",
              left: 102,
              top: r - 2.5,
              width: 22,
              height: 3,
              background: C_AVG[k],
            }}
          />
          <div style={{ ...legendText, left: 130, top: r - 6.5 }}>{TOP_LEGEND_RIGHT[k]}</div>
        </React.Fragment>
      ))}
    </div>
  );
}

function BottomLegend() {
  const rows = [8, 20, 32];
  return (
    <div
      style={{
        position: "absolute",
        left: 2277,
        top: 1103,
        width: 61,
        height: 41,
        background: "rgba(255,250,232,0.85)",
        border: "1px solid #e2c99c",
        borderRadius: 3,
        boxSizing: "border-box",
      }}
    >
      {rows.map((r, k) => (
        <React.Fragment key={k}>
          <div
            style={{
              position: "absolute",
              left: 2,
              top: r - 2.5,
              width: 22,
              height: 3,
              background: C_DB[k],
            }}
          />
          <div style={{ ...legendText, left: 30, top: r - 6.5 }}>{BOTTOM_LEGEND[k]}</div>
        </React.Fragment>
      ))}
    </div>
  );
}

export default function App() {
  return (
    <div
      style={{
        position: "absolute",
        left: 0,
        top: 0,
        width: 2400,
        height: 1200,
        background: "#fff",
        fontFamily: FONT,
        overflow: "hidden",
      }}
    >
      <div
        style={{
          position: "absolute",
          left: 24,
          top: 11,
          fontSize: 14,
          fontWeight: "bold",
          lineHeight: "15.5px",
          whiteSpace: "nowrap",
        }}
      >
        {SUPTITLE_1}
        <br />
        {SUPTITLE_2}
      </div>
      <div
        style={{
          position: "absolute",
          left: 59,
          top: 64.5,
          fontSize: 11.6,
          fontWeight: "bold",
          lineHeight: "12px",
          whiteSpace: "nowrap",
        }}
      >
        {TOP_TITLE}
      </div>
      <div
        style={{
          position: "absolute",
          left: 59,
          top: 626,
          fontSize: 11.6,
          fontWeight: "bold",
          lineHeight: "12px",
          whiteSpace: "nowrap",
        }}
      >
        {BOTTOM_TITLE}
      </div>
      <NoiseChart kind="top" top={76} height={560} padTop={8} xAxisH={48} />
      <NoiseChart kind="bottom" top={636} height={564} padTop={9} xAxisH={50} />
      <TopLegend />
      <BottomLegend />
    </div>
  );
}
